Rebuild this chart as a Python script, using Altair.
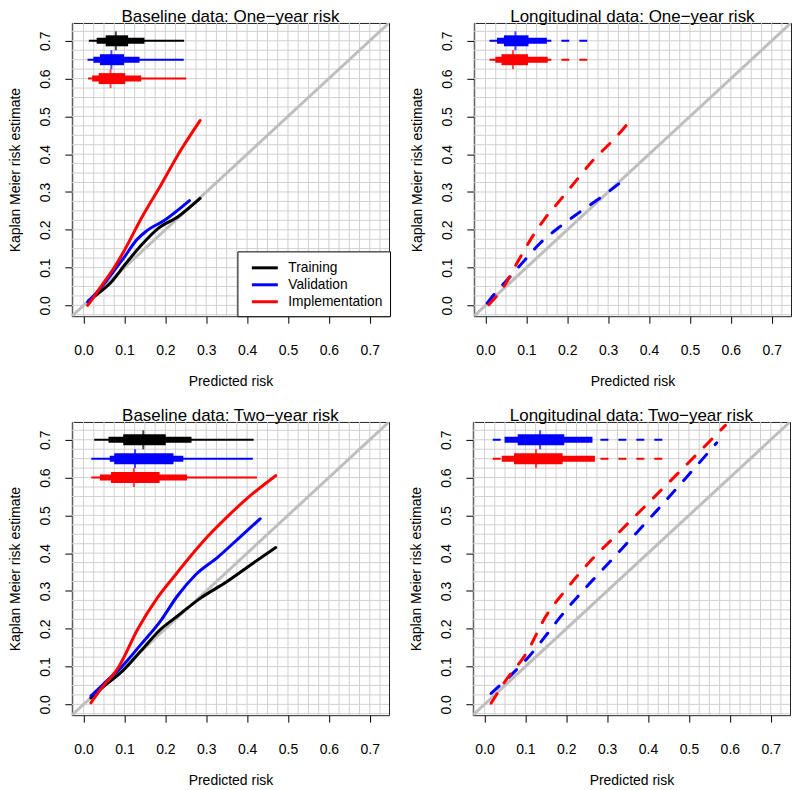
import altair as alt
import pandas as pd
import numpy as np

SERIES = ["Training", "Validation", "Implementation"]
COLORS = ["#000000", "#0000FF", "#FF0000"]
TITLES = ["Baseline data: One\u2212year risk", "Longitudinal data: One\u2212year risk",
          "Baseline data: Two\u2212year risk", "Longitudinal data: Two\u2212year risk"]
TICKS = [0.0, 0.1, 0.2, 0.3, 0.4, 0.5, 0.6, 0.7]
DOMAIN = [-0.0287, 0.7472]
GRID = [round(-0.025 + 0.025 * i, 3) for i in range(31)]

# ---- Panel 1: baseline, one-year ----
p1_train_x = [0.012, 0.04, 0.068, 0.10, 0.141, 0.182, 0.23, 0.285]
p1_train_y = [0.012, 0.035, 0.062, 0.106, 0.159, 0.203, 0.234, 0.283]
p1_val_x = [0.01, 0.044, 0.07, 0.10, 0.129, 0.153, 0.198, 0.259]
p1_val_y = [0.009, 0.049, 0.085, 0.128, 0.172, 0.196, 0.225, 0.277]
p1_imp_x = [0.01, 0.03, 0.048, 0.075, 0.10, 0.141, 0.19, 0.238, 0.285]
p1_imp_y = [0.0, 0.03, 0.058, 0.10, 0.146, 0.23, 0.32, 0.411, 0.489]
p1_box_series = ["Training", "Validation", "Implementation"]
p1_box_row = [0.70, 0.65, 0.60]
p1_box_min = [0.013, 0.0097, 0.011]
p1_box_lo = [0.032, 0.024, 0.021]
p1_box_q1 = [0.054, 0.040, 0.037]
p1_box_med = [0.079, 0.068, 0.066]
p1_box_q3 = [0.109, 0.099, 0.102]
p1_box_hi = [0.149, 0.137, 0.141]
p1_box_max = [0.246, 0.245, 0.251]

# ---- Panel 2: longitudinal, one-year ----
p2_val_x = [0.004, 0.024, 0.061, 0.097, 0.134, 0.183, 0.227, 0.28, 0.349]
p2_val_y = [0.006, 0.033, 0.077, 0.121, 0.165, 0.209, 0.244, 0.284, 0.341]
p2_imp_x = [0.008, 0.045, 0.077, 0.11, 0.146, 0.183, 0.223, 0.264, 0.313, 0.361]
p2_imp_y = [0.002, 0.05, 0.112, 0.174, 0.231, 0.279, 0.332, 0.385, 0.438, 0.498]
p2_box_series = ["Validation", "Implementation"]
p2_box_row = [0.70, 0.65]
p2_box_min = [0.0097, 0.0097]
p2_box_lo = [0.028, 0.024]
p2_box_q1 = [0.045, 0.039]
p2_box_med = [0.073, 0.067]
p2_box_q3 = [0.105, 0.104]
p2_box_hi = [0.150, 0.152]
p2_box_max = [0.264, 0.273]

# ---- Panel 3: baseline, two-year ----
p3_train_x = [0.018, 0.05, 0.095, 0.14, 0.188, 0.229, 0.286, 0.351, 0.41, 0.47]
p3_train_y = [0.017, 0.048, 0.088, 0.141, 0.198, 0.233, 0.281, 0.325, 0.37, 0.415]
p3_val_x = [0.018, 0.05, 0.091, 0.14, 0.188, 0.229, 0.274, 0.33, 0.38, 0.432]
p3_val_y = [0.022, 0.055, 0.097, 0.158, 0.22, 0.286, 0.343, 0.391, 0.44, 0.491]
p3_imp_x = [0.018, 0.042, 0.087, 0.132, 0.18, 0.225, 0.261, 0.30, 0.355, 0.40, 0.47]
p3_imp_y = [0.004, 0.04, 0.101, 0.198, 0.281, 0.343, 0.391, 0.44, 0.50, 0.545, 0.605]
p3_box_series = ["Training", "Validation", "Implementation"]
p3_box_row = [0.70, 0.65, 0.60]
p3_box_min = [0.026, 0.019, 0.019]
p3_box_lo = [0.061, 0.064, 0.040]
p3_box_q1 = [0.097, 0.075, 0.067]
p3_box_med = [0.146, 0.126, 0.123]
p3_box_q3 = [0.201, 0.220, 0.186]
p3_box_hi = [0.264, 0.244, 0.253]
p3_box_max = [0.416, 0.414, 0.424]

# ---- Panel 4: longitudinal, two-year ----
p4_val_x = [0.016, 0.069, 0.105, 0.158, 0.183, 0.264, 0.309, 0.353, 0.394, 0.434, 0.491, 0.568]
p4_val_y = [0.029, 0.082, 0.122, 0.193, 0.228, 0.328, 0.38, 0.432, 0.48, 0.528, 0.597, 0.692]
p4_imp_x = [0.016, 0.053, 0.102, 0.15, 0.199, 0.264, 0.313, 0.361, 0.41, 0.459, 0.589]
p4_imp_y = [0.003, 0.065, 0.135, 0.233, 0.303, 0.385, 0.438, 0.49, 0.543, 0.596, 0.738]
p4_box_series = ["Validation", "Implementation"]
p4_box_row = [0.70, 0.65]
p4_box_min = [0.020, 0.020]
p4_box_lo = [0.049, 0.042]
p4_box_q1 = [0.081, 0.072]
p4_box_med = [0.136, 0.126]
p4_box_q3 = [0.195, 0.191]
p4_box_hi = [0.264, 0.270]
p4_box_max = [0.447, 0.449]

FONT = "Liberation Sans"
W, H = 318, 294

AX_X = alt.Axis(values=TICKS, format=".1f", title="Predicted risk", grid=False, domain=False,
                tickSize=7, tickColor="black", tickWidth=1, labelFontSize=14, labelColor="black",
                labelPadding=20, titlePadding=17, titleFontSize=14, titleFontWeight="normal",
                titleColor="black", labelFlush=False)
AX_Y = alt.Axis(values=TICKS, format=".1f", title="Kaplan Meier risk estimate", grid=False, domain=False,
                tickSize=7, tickColor="black", tickWidth=1, labelFontSize=14, labelColor="black",
                labelAngle=270, labelAlign="center", labelBaseline="bottom",
                labelPadding=12, titlePadding=16, titleFontSize=14, titleFontWeight="normal",
                titleColor="black", labelFlush=False)
SX = alt.Scale(domain=DOMAIN, nice=False, zero=False)


def X(field):
    return alt.X(field, type="quantitative", scale=SX, axis=AX_X)


def Y(field):
    return alt.Y(field, type="quantitative", scale=SX, axis=AX_Y)


def panel(title, curves, box, dashed, legend):
    names = [c[0] for c in curves]
    cols = [COLORS[SERIES.index(n)] for n in names]
    cscale = alt.Scale(domain=names, range=cols)
    gdf = pd.DataFrame({"g": GRID})
    vgrid = alt.Chart(gdf).mark_rule(color="#D0D0D0", strokeWidth=1).encode(x=X("g"))
    hgrid = alt.Chart(gdf).mark_rule(color="#D0D0D0", strokeWidth=1).encode(y=Y("g"))
    ddf = pd.DataFrame({"d": DOMAIN})
    diag = alt.Chart(ddf).mark_line(color="#BEBEBE", strokeWidth=3, clip=True).encode(x=X("d"), y=Y("d"))

    rows = []
    for name, xs, ys in curves:
        for i, (a, b) in enumerate(zip(xs, ys)):
            rows.append({"series": name, "px": a, "py": b, "i": i})
    cdf = pd.DataFrame(rows)
    lkw = dict(strokeWidth=3, strokeCap="round", strokeJoin="round", interpolate="monotone")
    if dashed:
        lkw["strokeDash"] = [11, 13]
    if legend:
        leg = alt.Legend(title=None, orient="none", legendX=166, legendY=229, direction="vertical",
                         fillColor="white", strokeColor="black", padding=7,
                         symbolType="M-1.625,0H1.625", symbolSize=256, symbolStrokeWidth=3,
                         symbolOffset=11, labelOffset=14, labelFontSize=13.8, labelColor="black",
                         rowPadding=-2.5)
    else:
        leg = None
    curve = alt.Chart(cdf).mark_line(**lkw).encode(
        x=X("px"), y=Y("py"),
        color=alt.Color("series:N", scale=cscale, legend=leg),
        order="i:Q")

    bdf = pd.DataFrame({"series": box[0], "row": box[1], "mn": box[2], "lo": box[3], "q1": box[4],
                        "med": box[5], "q3": box[6], "hi": box[7], "mx": box[8]})
    ccol = alt.Color("series:N", scale=cscale, legend=None)
    tkw = dict(strokeWidth=2)
    if dashed:
        tkw["strokeDash"] = [8, 10]
    thin = alt.Chart(bdf).mark_rule(**tkw).encode(x=X("mn"), x2="mx", y=Y("row"), color=ccol)
    mid = alt.Chart(bdf).mark_rule(strokeWidth=6).encode(x=X("lo"), x2="hi", y=Y("row"), color=ccol)
    thick = alt.Chart(bdf).mark_rule(strokeWidth=11).encode(x=X("q1"), x2="q3", y=Y("row"), color=ccol)
    med = alt.Chart(bdf).mark_tick(orient="vertical", size=19, thickness=2).encode(
        x=X("med"), y=Y("row"), color=ccol)

    return alt.layer(vgrid, hgrid, diag, curve, thin, mid, thick, med).properties(
        width=W, height=H,
        title=alt.Title(title, fontSize=17, fontWeight="normal", color="black", anchor="middle",
                        baseline="bottom", offset=-21))


c1 = panel(TITLES[0], [("Training", p1_train_x, p1_train_y), ("Validation", p1_val_x, p1_val_y),
                       ("Implementation", p1_imp_x, p1_imp_y)],
           [p1_box_series, p1_box_row, p1_box_min, p1_box_lo, p1_box_q1, p1_box_med, p1_box_q3, p1_box_hi, p1_box_max],
           False, True)
c2 = panel(TITLES[1], [("Validation", p2_val_x, p2_val_y), ("Implementation", p2_imp_x, p2_imp_y)],
           [p2_box_series, p2_box_row, p2_box_min, p2_box_lo, p2_box_q1, p2_box_med, p2_box_q3, p2_box_hi, p2_box_max],
           True, False)
c3 = panel(TITLES[2], [("Training", p3_train_x, p3_train_y), ("Validation", p3_val_x, p3_val_y),
                       ("Implementation", p3_imp_x, p3_imp_y)],
           [p3_box_series, p3_box_row, p3_box_min, p3_box_lo, p3_box_q1, p3_box_med, p3_box_q3, p3_box_hi, p3_box_max],
           False, False)
c4 = panel(TITLES[3], [("Validation", p4_val_x, p4_val_y), ("Implementation", p4_imp_x, p4_imp_y)],
           [p4_box_series, p4_box_row, p4_box_min, p4_box_lo, p4_box_q1, p4_box_med, p4_box_q3, p4_box_hi, p4_box_max],
           True, False)

top = alt.hconcat(c1, c2, spacing=19).resolve_scale(color="independent")
bot = alt.hconcat(c3, c4, spacing=19).resolve_scale(color="independent")
chart = alt.vconcat(top, bot, spacing=18).resolve_scale(color="independent").properties(
    padding={"left": 0, "top": -1, "right": 0, "bottom": 0}
).configure(font=FONT).configure_view(stroke="#222222", strokeWidth=1)

chart.save("out.html", embed_options={"renderer": "svg", "actions": False})
